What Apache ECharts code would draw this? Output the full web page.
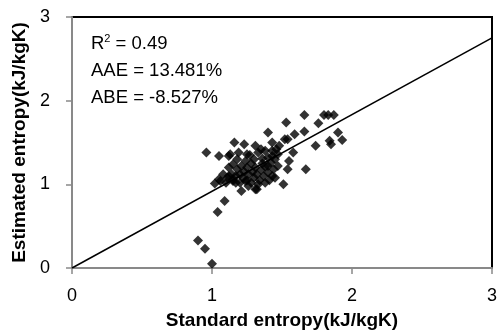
<!DOCTYPE html>
<html>
<head>
<meta charset="utf-8">
<script src="https://cdn.jsdelivr.net/npm/echarts@6/dist/echarts.min.js"></script>
<style>
  html, body { margin: 0; padding: 0; background: #fff; }
  #chart { width: 501px; height: 335px; }
</style>
</head>
<body>
<div id="chart"></div>
<script>
// standard (x) vs estimated (y) entropy
const points = [
  [0.90, 0.33], [0.95, 0.23], [1.00, 0.05], [1.04, 0.67], [1.09, 0.80],
  [0.96, 1.38], [1.05, 1.34], [1.12, 1.34], [1.16, 1.50], [1.19, 1.38],
  [1.23, 1.48], [1.25, 1.36], [1.31, 1.46], [1.40, 1.62], [1.13, 1.36],
  [1.02, 1.01], [1.05, 1.06], [1.06, 1.04], [1.11, 1.08], [1.12, 1.10],
  [1.15, 1.04], [1.17, 1.02], [1.21, 0.92], [1.24, 1.04], [1.31, 0.94],
  [1.32, 0.94], [1.45, 1.08], [1.51, 1.00], [1.43, 1.10], [1.54, 1.18],
  [1.67, 1.18], [1.55, 1.28], [1.58, 1.38], [1.74, 1.46], [1.85, 1.48],
  [1.84, 1.52], [1.93, 1.53], [1.52, 1.54], [1.54, 1.54], [1.59, 1.60],
  [1.66, 1.63], [1.90, 1.62], [1.53, 1.74], [1.76, 1.73], [1.66, 1.83],
  [1.80, 1.83], [1.83, 1.83], [1.87, 1.83], [1.43, 1.50], [1.48, 1.46],
  [1.43, 1.34], [1.40, 1.22],
  // dense middle of the cloud
  [1.08, 1.12], [1.10, 1.02], [1.14, 1.12], [1.15, 1.06], [1.17, 1.10],
  [1.18, 1.18], [1.20, 1.02], [1.20, 1.12], [1.21, 1.22], [1.22, 1.08],
  [1.23, 1.15], [1.24, 1.28], [1.25, 1.05], [1.25, 1.20], [1.26, 1.12],
  [1.27, 1.35], [1.28, 1.02], [1.28, 1.25], [1.29, 1.15], [1.30, 1.08],
  [1.30, 1.30], [1.31, 1.20], [1.32, 1.12], [1.33, 1.38], [1.34, 1.05],
  [1.35, 1.17], [1.36, 1.31], [1.37, 1.10], [1.38, 1.21], [1.38, 1.40],
  [1.40, 1.14], [1.40, 1.32], [1.41, 1.05], [1.42, 1.26], [1.43, 1.40],
  [1.44, 1.18], [1.45, 1.30], [1.46, 1.42], [1.35, 1.42], [1.18, 1.30],
  [1.15, 1.24], [1.12, 1.20], [1.47, 1.36], [1.47, 1.22], [1.33, 1.00],
  [1.38, 1.02], [1.26, 0.98], [1.36, 1.25]
];
const fitLine = [[0, 0], [3, 2.75]];
const statLines = ['R{sup|2} = 0.49', 'AAE = 13.481%', 'ABE = -8.527%'];

const font = 'Liberation Sans';
const chart = echarts.init(document.getElementById('chart'));
chart.setOption({
  animation: false,
  grid: { left: 72, right: 9, top: 17, bottom: 66, show: true, borderColor: '#000', borderWidth: 2 },
  xAxis: {
    type: 'value', min: 0, max: 3, interval: 1,
    name: 'Standard entropy(kJ/kgK)', nameLocation: 'middle', nameGap: 43,
    nameTextStyle: { fontFamily: font, fontWeight: 'bold', fontSize: 19, color: '#000' },
    axisLine: { onZero: false, lineStyle: { color: '#898989', width: 2 } },
    axisTick: { show: true, length: 6, lineStyle: { color: '#898989', width: 1.5 } },
    axisLabel: { fontFamily: font, fontSize: 18, color: '#000', margin: 19 },
    splitLine: { show: false }
  },
  yAxis: {
    type: 'value', min: 0, max: 3, interval: 1,
    name: 'Estimated entropy(kJ/kgK)', nameLocation: 'middle', nameGap: 37,
    nameTextStyle: { fontFamily: font, fontWeight: 'bold', fontSize: 19, color: '#000' },
    axisLine: { show: true, onZero: false, lineStyle: { color: '#898989', width: 2 } },
    axisTick: { show: true, length: 6, lineStyle: { color: '#898989', width: 1.5 } },
    axisLabel: { fontFamily: font, fontSize: 18, color: '#000', margin: 22 },
    splitLine: { show: false }
  },
  series: [
    {
      type: 'scatter', data: points, symbol: 'diamond', symbolSize: 10,
      itemStyle: { color: '#000' }
    },
    {
      type: 'line', data: fitLine, symbol: 'none',
      lineStyle: { color: '#000', width: 1.5 }
    }
  ],
  graphic: statLines.map((t, i) => ({
    type: 'text', x: 91, y: 43.5 + i * 27,
    style: {
      text: t, fontFamily: font, fontSize: 18.5, fill: '#000', verticalAlign: 'middle',
      rich: { sup: { fontFamily: font, fontSize: 11, verticalAlign: 'top', padding: [0, 0, 9, 0] } }
    }
  }))
});
</script>
</body>
</html>
